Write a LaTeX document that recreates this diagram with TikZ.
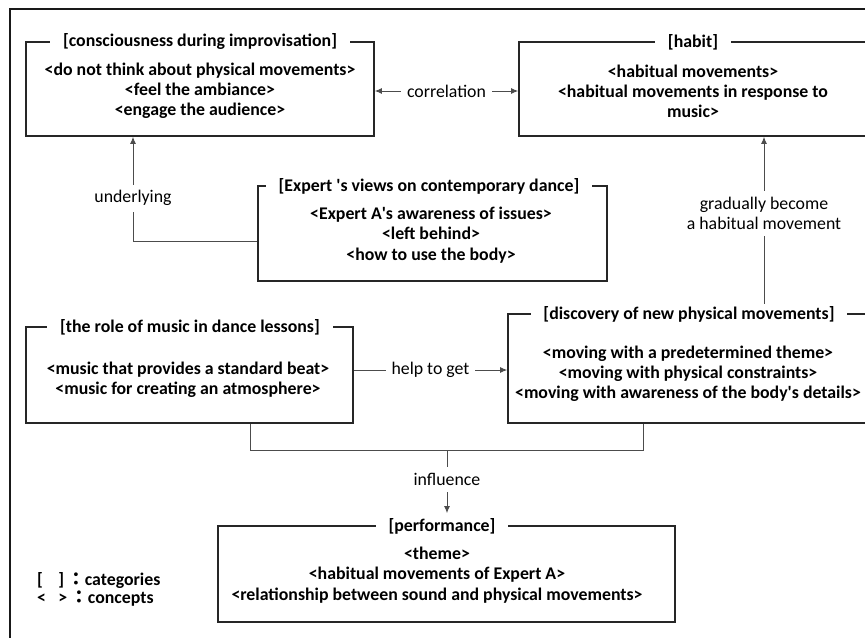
\documentclass[tikz,border=0pt]{standalone}
\usepackage{fontspec}
\setmainfont{Carlito}
\newfontfamily\cjk{Noto Sans CJK TC}
\usetikzlibrary{arrows.meta,fit}

\tikzset{
  catbox/.style={draw=black!85, line width=1.3pt, inner sep=0pt},
  cattitle/.style={fill=white, inner xsep=11pt, inner ysep=2pt, font=\bfseries\fontsize{15.2}{17.2}\selectfont},
  concepts/.style={align=center, inner sep=0pt, font=\bfseries\fontsize{15.2}{17.2}\selectfont},
  link/.style={draw=black!70, line width=0.8pt},
  linkarrow/.style={link, -{Latex[length=6pt,width=5pt]}},
  linkboth/.style={link, {Latex[length=6pt,width=5pt]}-{Latex[length=6pt,width=5pt]}},
  linklabel/.style={fill=white, inner sep=5pt, align=center, font=\fontsize{15.2}{17.6}\selectfont},
}

\begin{document}
\begin{tikzpicture}[x=0.03cm, y=-0.03cm]
\useasboundingbox (0,0) rectangle (865,637);
\clip (0,0) rectangle (865,637);
% outer frame
\draw[line width=1.8pt, black!90] (10,9) rectangle (900,700);

% category boxes
\node[catbox, fit={(26,42) (374,136)}] (consc) {};
\node[catbox, fit={(519,42) (867,136)}] (habit) {};
\node[catbox, fit={(258,186) (607,281)}] (views) {};
\node[catbox, fit={(26,327) (353,423)}] (music) {};
\node[catbox, fit={(508,314) (866,423)}] (discov) {};
\node[catbox, fit={(218,526) (675,622)}] (perf) {};

% category titles
\node[cattitle] (conscT) at (200,42) {[consciousness during improvisation]};
\node[cattitle] (habitT) at (693,42) {[habit]};
\node[cattitle] (viewsT) at (429,186) {[Expert \textquotesingle s views on contemporary dance]};
\node[cattitle] (musicT) at (190,327) {[the role of music in dance lessons]};
\node[cattitle] (discovT) at (689,314) {[discovery of new physical movements]};
\node[cattitle] (perfT) at (442,526) {[performance]};

% concepts
\node[concepts] (conscC) at (200,91) {<do not think about physical movements>\\<feel the ambiance>\\<engage the audience>};
\node[concepts] (habitC) at (693,91) {<habitual movements>\\<habitual movements in response to\\music>};
\node[concepts] (viewsC) at (431,235) {<Expert A\textquotesingle s awareness of issues>\\<left behind>\\<how to use the body>};
\node[concepts] (musicC) at (188,380) {<music that provides a standard beat>\\<music for creating an atmosphere>};
\node[concepts] (discovC) at (688,374) {<moving with a predetermined theme>\\<moving with physical constraints>\\<moving with awareness of the body\textquotesingle s details>};
\node[concepts] (perfC) at (437,575) {<theme>\\<habitual movements of Expert A>\\<relationship between sound and physical movements>};

% legend
\node[concepts, anchor=west] (legcat) at (37,580) {\makebox[18pt][l]{[}]\,{\cjk ：}categories};
\node[concepts, anchor=west] (legcon) at (37,599) {\makebox[18pt][l]{<}>\,{\cjk ：}concepts};

% connectors
\coordinate (undbend) at (133,241);
\coordinate (gradx) at (764,0);
\coordinate (helpy) at (0,370);
\coordinate (inflL) at (250,450);
\coordinate (inflR) at (643,450);
\coordinate (inflM) at (447,450);

\draw[linkboth] (consc.east |- 0,91) -- node[linklabel] {correlation} (habit.west |- 0,91);
\draw[linkarrow] (views.west |- undbend) -- (undbend) -- node[linklabel, pos=0.41] {underlying} (undbend |- consc.south);
\draw[linkarrow] (discovT.north -| gradx) -- node[linklabel, pos=0.54] {gradually become\\a habitual movement} (habit.south -| gradx);
\draw[linkarrow] (music.east |- helpy) -- node[linklabel] {help to get} (discov.west |- helpy);
\draw[link] (music.south -| inflL) -- (inflL) -- (inflR) -- (discov.south -| inflR);
\draw[linkarrow, shorten >=2pt] (inflM) -- node[linklabel, pos=0.45] {influence} (perfT.north -| inflM);
\end{tikzpicture}
\end{document}
